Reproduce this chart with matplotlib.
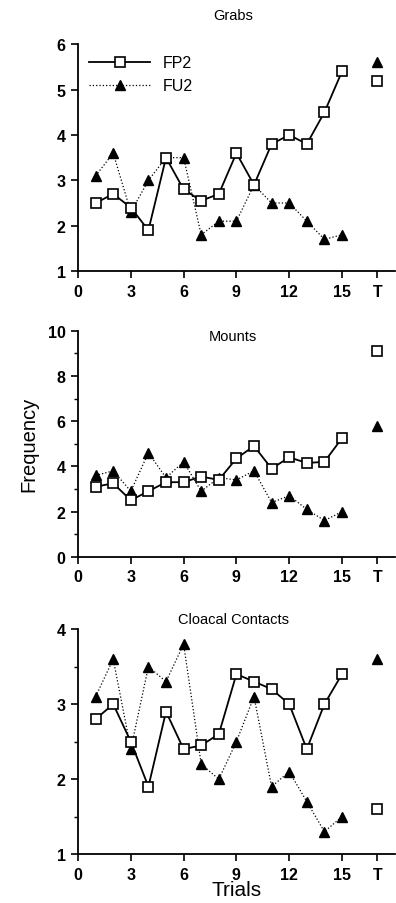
import matplotlib
matplotlib.use("Agg")
import matplotlib.pyplot as plt
from matplotlib.ticker import MultipleLocator

plt.rcParams['font.family'] = ['Liberation Sans', 'DejaVu Sans']

trials = list(range(1, 16))
t_pos = 17
x_ticks = [0, 3, 6, 9, 12, 15, 17]
x_ticklabels = ['0', '3', '6', '9', '12', '15', 'T']

# Grabs
grabs_fp2 = [2.5, 2.7, 2.4, 1.9, 3.5, 2.8, 2.55, 2.7, 3.6, 2.9, 3.8, 4.0, 3.8, 4.5, 5.4]
grabs_fu2 = [3.1, 3.6, 2.3, 3.0, 3.5, 3.5, 1.8, 2.1, 2.1, 2.9, 2.5, 2.5, 2.1, 1.7, 1.8]
grabs_t_fp2 = 5.2
grabs_t_fu2 = 5.6

# Mounts
mounts_fp2 = [3.1, 3.25, 2.5, 2.9, 3.3, 3.3, 3.55, 3.4, 4.35, 4.9, 3.9, 4.4, 4.15, 4.2, 5.25]
mounts_fu2 = [3.6, 3.8, 2.9, 4.6, 3.5, 4.2, 2.9, 3.5, 3.4, 3.8, 2.4, 2.7, 2.1, 1.6, 2.0]
mounts_t_fp2 = 9.1
mounts_t_fu2 = 5.8

# Cloacal contacts
cloacal_fp2 = [2.8, 3.0, 2.5, 1.9, 2.9, 2.4, 2.45, 2.6, 3.4, 3.3, 3.2, 3.0, 2.4, 3.0, 3.4]
cloacal_fu2 = [3.1, 3.6, 2.4, 3.5, 3.3, 3.8, 2.2, 2.0, 2.5, 3.1, 1.9, 2.1, 1.7, 1.3, 1.5]
cloacal_t_fp2 = 1.6
cloacal_t_fu2 = 3.6

fig = plt.figure(figsize=(3.96, 9.04), dpi=100)

panels = [
    # title, fp2, fu2, t_fp2, t_fu2, ylim, major, minor, rect, title_y
    ('Grabs', grabs_fp2, grabs_fu2, grabs_t_fp2, grabs_t_fu2, (1, 6), 1, None,
     [0.197, 0.699, 0.80, 0.251], 1.13),
    ('Mounts', mounts_fp2, mounts_fu2, mounts_t_fp2, mounts_t_fu2, (0, 10), 2, 1,
     [0.197, 0.383, 0.80, 0.250], 0.975),
    ('Cloacal Contacts', cloacal_fp2, cloacal_fu2, cloacal_t_fp2, cloacal_t_fu2, (1, 4), 1, 0.5,
     [0.197, 0.054, 0.80, 0.249], 1.045),
]

axes = []
for title, fp2, fu2, t_fp2, t_fu2, ylim, major, minor, rect, title_y in panels:
    ax = fig.add_axes(rect)
    axes.append(ax)
    ax.plot(trials, fp2, color='black', lw=1.3, marker='s', ms=7,
            mfc='white', mec='black', mew=1.2, label='FP2', zorder=3)
    ax.plot(trials, fu2, color='black', lw=0.9, ls=':', marker='^', ms=7,
            mfc='black', mec='black', label='FU2', zorder=2)
    ax.plot([t_pos], [t_fp2], ls='none', marker='s', ms=7, mfc='white',
            mec='black', mew=1.2, zorder=3)
    ax.plot([t_pos], [t_fu2], ls='none', marker='^', ms=7, mfc='black',
            mec='black', zorder=2)

    ax.set_xlim(0, 18)
    ax.set_ylim(*ylim)
    ax.set_xticks(x_ticks)
    ax.set_xticklabels(x_ticklabels)
    ax.yaxis.set_major_locator(MultipleLocator(major))
    if minor:
        ax.yaxis.set_minor_locator(MultipleLocator(minor))
    for side in ('top', 'right'):
        ax.spines[side].set_visible(False)
    for side in ('left', 'bottom'):
        ax.spines[side].set_linewidth(1.3)
    ax.tick_params(direction='out', length=5, width=1.2, labelsize=11.5, pad=4)
    ax.tick_params(which='minor', length=3, width=1)
    for lab in ax.get_xticklabels() + ax.get_yticklabels():
        lab.set_fontweight('bold')
    ax.text(0.49, title_y, title, transform=ax.transAxes, ha='center',
            va='center', fontsize=10.5)

leg = axes[0].legend(loc='upper left', bbox_to_anchor=(0.0, 1.0), frameon=False,
                     fontsize=11.5, handlelength=3.8, handletextpad=0.8,
                     labelspacing=0.5, borderaxespad=0.3)

axes[1].set_ylabel('Frequency', fontsize=14.5, labelpad=7)
axes[2].set_xlabel('Trials', fontsize=15, labelpad=-1)

fig.savefig('out.png', dpi=100)
